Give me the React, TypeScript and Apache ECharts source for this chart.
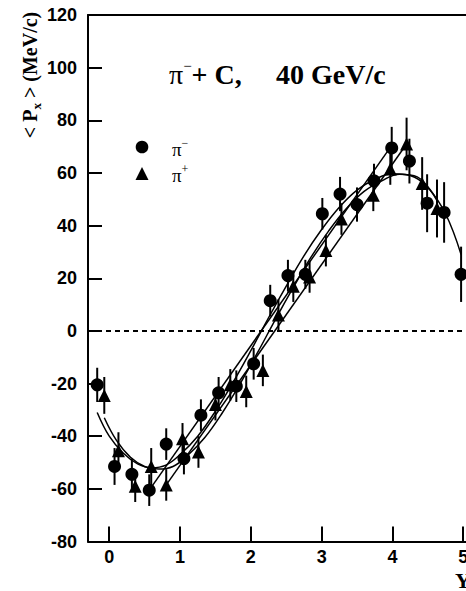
import React, { useEffect, useRef } from 'react';
import * as echarts from 'echarts';

// pi- data (circles)
const piMinusX = [-0.17, 0.075, 0.32, 0.565, 0.805, 1.055, 1.295, 1.545, 1.795, 2.04, 2.274, 2.524, 2.77, 3.01, 3.26, 3.5, 3.74, 3.99, 4.24, 4.49, 4.73, 4.97];
const piMinusY = [-20.5, -51.5, -54.5, -60.5, -43, -48.5, -32, -23.5, -21, -12.5, 11.5, 21, 21.5, 44.5, 52, 48, 57, 69.5, 64.5, 48.5, 45, 21.5];
const piMinusErr = [6.5, 7, 6, 6, 6, 6, 6, 6, 6, 6, 6, 6, 5.5, 6, 6.5, 6.5, 6.5, 8, 8.5, 11, 11.5, 10.5];

// pi+ data (triangles)
const piPlusX = [-0.07, 0.13, 0.367, 0.593, 0.805, 1.035, 1.26, 1.5, 1.71, 1.935, 2.17, 2.39, 2.6, 2.83, 3.06, 3.28, 3.73, 3.97, 4.2, 4.42, 4.63];
const piPlusY = [-24.5, -45.5, -59, -51.5, -58.5, -41, -46, -28, -20.5, -23, -15, 6, 17, 20.5, 30.5, 42.5, 51.5, 61.5, 71, 56, 46.5];
const piPlusErr = [7, 7, 6, 7, 6, 6, 6, 6, 6, 6, 6, 6, 6, 6, 6, 6, 6, 6, 10, 10, 11];

// smooth fits
const fitMinusX = [-0.17, 0, 0.2, 0.4, 0.6, 0.8, 1.0, 1.25, 1.5, 1.75, 2.0, 2.25, 2.5, 2.75, 3.0, 3.25, 3.5, 3.75, 4.0, 4.25, 4.5, 4.75, 4.97];
const fitMinusY = [-31, -40, -46.5, -50.5, -52, -51, -47, -40, -30.5, -19.5, -7.5, 5, 17, 28.5, 38.5, 47, 53.5, 57.5, 59.7, 59, 54.5, 44.5, 29];
const fitPlusX = [-0.07, 0.1, 0.3, 0.5, 0.7, 0.9, 1.1, 1.35, 1.6, 1.85, 2.1, 2.35, 2.6, 2.85, 3.1, 3.35, 3.6, 3.85, 4.1, 4.35, 4.63];
const fitPlusY = [-33, -41.5, -48, -51.5, -52.5, -51.5, -47.5, -40.5, -31, -20, -8, 4.5, 16.5, 28, 38, 46.5, 53, 57, 59.5, 58.5, 49.5];

// straight-line fits
const lineMinusX = [0.565, 3.99];
const lineMinusY = [-60.5, 70.5];
const linePlusX = [0.805, 4.2];
const linePlusY = [-58.5, 71];

const xTicks = [0, 1, 2, 3, 4, 5];
const yMin = -80;
const yMax = 120;
const yStep = 20;

const zip = (xs: number[], ys: number[]) => xs.map((x, i) => [x, ys[i]]);
const zip3 = (xs: number[], ys: number[], es: number[]) => xs.map((x, i) => [x, ys[i], es[i]]);

const serif = '"Liberation Serif", "Times New Roman", serif';
const sans = '"Liberation Sans", Arial, sans-serif';

const errRender = (params: any, api: any) => {
  const x = api.value(0);
  const y = api.value(1);
  const e = api.value(2);
  const a = api.coord([x, y + e]);
  const b = api.coord([x, y - e]);
  return {
    type: 'line',
    shape: { x1: a[0], y1: a[1], x2: b[0], y2: b[1] },
    style: { stroke: '#000', lineWidth: 2 },
  };
};

export default function App() {
  const ref = useRef<HTMLDivElement>(null);
  useEffect(() => {
    if (!ref.current) return;
    const chart = echarts.init(ref.current, undefined, { renderer: 'svg' });
    const lineStyle = { color: '#000', width: 1.5 };
    chart.setOption({
      animation: false,
      backgroundColor: '#fff',
      grid: { left: 88, top: 15, width: 384, height: 526.5 },
      xAxis: [
        {
          type: 'value',
          min: -0.3,
          max: 5.124,
          position: 'bottom',
          axisLine: { show: true, onZero: false, lineStyle: { color: '#000', width: 2 } },
          axisTick: { show: true, inside: true, length: 15, customValues: xTicks, lineStyle: { color: '#000', width: 2 } },
          axisLabel: { customValues: xTicks, color: '#000', fontFamily: sans, fontWeight: 'bold', fontSize: 18, margin: 6 },
          splitLine: { show: false },
        },
        {
          type: 'value',
          min: -0.3,
          max: 5.124,
          position: 'top',
          axisLine: { show: true, onZero: false, lineStyle: { color: '#000', width: 2 } },
          axisTick: { show: false },
          axisLabel: { show: false },
          splitLine: { show: false },
        },
      ],
      yAxis: {
        type: 'value',
        min: yMin,
        max: yMax,
        interval: yStep,
        axisLine: { show: true, onZero: false, lineStyle: { color: '#000', width: 2 } },
        axisTick: { show: true, inside: true, length: 14, lineStyle: { color: '#000', width: 2 } },
        axisLabel: { color: '#000', fontFamily: sans, fontWeight: 'bold', fontSize: 18, margin: 11 },
        splitLine: { show: false },
      },
      series: [
        {
          type: 'line',
          data: zip(fitMinusX, fitMinusY),
          smooth: 0.4,
          showSymbol: false,
          symbol: 'none',
          lineStyle,
          markLine: {
            silent: true,
            symbol: 'none',
            label: { show: false },
            lineStyle: { color: '#000', width: 2, type: [5, 4] },
            data: [{ yAxis: 0 }],
          },
        },
        { type: 'line', data: zip(fitPlusX, fitPlusY), smooth: 0.4, showSymbol: false, symbol: 'none', lineStyle },
        { type: 'line', data: zip(lineMinusX, lineMinusY), showSymbol: false, symbol: 'none', lineStyle },
        { type: 'line', data: zip(linePlusX, linePlusY), showSymbol: false, symbol: 'none', lineStyle },
        { type: 'custom', renderItem: errRender, data: zip3(piMinusX, piMinusY, piMinusErr), encode: { x: 0, y: 1 }, z: 3 },
        { type: 'custom', renderItem: errRender, data: zip3(piPlusX, piPlusY, piPlusErr), encode: { x: 0, y: 1 }, z: 3 },
        { name: 'π-', type: 'scatter', symbol: 'circle', symbolSize: 13, data: zip(piMinusX, piMinusY), itemStyle: { color: '#000', opacity: 1 }, z: 4 },
        { name: 'π+', type: 'scatter', symbol: 'triangle', symbolSize: 13, data: zip(piPlusX, piPlusY), itemStyle: { color: '#000', opacity: 1 }, z: 4 },
      ],
      graphic: [
        {
          type: 'text',
          x: 30,
          y: 75,
          rotation: Math.PI / 2,
          style: {
            text: '{a|< P}{s|x}{a| > (MeV/c)}',
            align: 'center',
            verticalAlign: 'middle',
            rich: {
              a: { fontFamily: serif, fontWeight: 'bold', fontSize: 20, lineHeight: 26, verticalAlign: 'middle', fill: '#000' },
              s: { fontFamily: serif, fontWeight: 'bold', fontSize: 13, lineHeight: 13, verticalAlign: 'bottom', fill: '#000' },
            },
          },
        },
        {
          type: 'text',
          x: 169,
          y: 74,
          style: {
            text: '{p|π}{s|−}{b|+ C,}',
            align: 'left',
            verticalAlign: 'middle',
            rich: {
              p: { fontFamily: serif, fontSize: 28, lineHeight: 32, verticalAlign: 'middle', fill: '#000' },
              s: { fontFamily: serif, fontSize: 15, lineHeight: 15, verticalAlign: 'top', fill: '#000' },
              b: { fontFamily: serif, fontWeight: 'bold', fontSize: 28, lineHeight: 32, verticalAlign: 'middle', fill: '#000' },
            },
          },
        },
        {
          type: 'text',
          x: 276,
          y: 74,
          style: { text: '40 GeV/c', fontFamily: serif, fontWeight: 'bold', fontSize: 28, fill: '#000', align: 'left', verticalAlign: 'middle' },
        },
        { type: 'circle', shape: { cx: 142, cy: 147, r: 6.3 }, style: { fill: '#000' } },
        { type: 'polygon', shape: { points: [[135.5, 180], [148.5, 180], [142, 167]] }, style: { fill: '#000' } },
        {
          type: 'text',
          x: 172,
          y: 149,
          style: {
            text: '{p|π}{s|−}',
            align: 'left',
            verticalAlign: 'middle',
            rich: {
              p: { fontFamily: serif, fontSize: 19, lineHeight: 24, verticalAlign: 'middle', fill: '#000' },
              s: { fontFamily: serif, fontSize: 12, lineHeight: 12, verticalAlign: 'top', fill: '#000' },
            },
          },
        },
        {
          type: 'text',
          x: 172,
          y: 175,
          style: {
            text: '{p|π}{s|+}',
            align: 'left',
            verticalAlign: 'middle',
            rich: {
              p: { fontFamily: serif, fontSize: 19, lineHeight: 24, verticalAlign: 'middle', fill: '#000' },
              s: { fontFamily: serif, fontSize: 12, lineHeight: 12, verticalAlign: 'top', fill: '#000' },
            },
          },
        },
        {
          type: 'text',
          x: 455,
          y: 580,
          style: { text: 'Y', fontFamily: serif, fontWeight: 'bold', fontSize: 22, fill: '#000', align: 'left', verticalAlign: 'middle' },
        },
      ],
    });
    return () => chart.dispose();
  }, []);
  return (
    <div style={{ position: 'fixed', left: 0, top: 0, width: 466, height: 591, overflow: 'hidden', background: '#fff' }}>
      <div ref={ref} style={{ width: 490, height: 591 }} />
    </div>
  );
}
